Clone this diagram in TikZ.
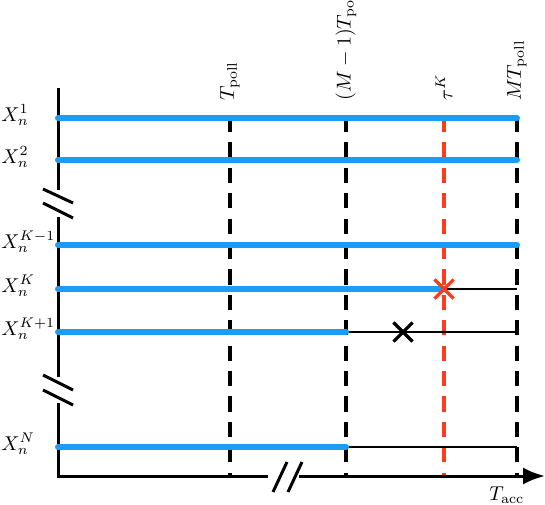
\documentclass[tikz,border=0pt]{standalone}
\usetikzlibrary{arrows.meta,shapes.misc}
\definecolor{sigblue}{RGB}{28,156,245}
\definecolor{sigred}{RGB}{255,58,30}
\begin{document}
\begin{tikzpicture}[x=0.5pt,y=-0.5pt,
  axis/.style={line width=1.5pt,black},
  brk/.style={line width=1.5pt,black},
  gridline/.style={line width=1.6pt,dash pattern=on 7.6pt off 5.1pt},
  sig/.style={line width=3pt,sigblue,line cap=round},
  tail/.style={line width=1.2pt,black},
  ylab/.style={anchor=base west,inner sep=0pt},
  tlab/.style={rotate=90,anchor=west,inner sep=0pt},
  crossmark/.style={cross out,draw,line width=1.6pt,inner sep=0pt,minimum size=8pt}]
\useasboundingbox (0,0) rectangle (545,504);

% axis points
\coordinate (ytop) at (58,88);
\coordinate (vb1) at (58,190);
\coordinate (vb2) at (58,217);
\coordinate (vb3) at (58,377);
\coordinate (vb4) at (58,403);
\coordinate (o) at (58,476);
\coordinate (hb1) at (268,476);
\coordinate (hb2) at (299,476);
\coordinate (xend) at (545,476);

% grid lines
\coordinate (g1t) at (230,117); \coordinate (g1b) at (230,476);
\coordinate (g2t) at (346,117); \coordinate (g2b) at (346,476);
\coordinate (g3t) at (444,117); \coordinate (g3b) at (444,476);
\coordinate (g4t) at (517,117); \coordinate (g4b) at (517,476);

\draw[gridline] (g1t) -- (g1b);
\draw[gridline] (g2t) -- (g2b);
\draw[gridline,sigred] (g3t) -- (g3b);
\draw[gridline] (g4t) -- (g4b);

% axes
\draw[axis] (ytop) -- (vb1);
\draw[axis] (vb2) -- (vb3);
\draw[axis,line join=miter] (vb4) -- (o) -- (hb1);
\draw[axis,-{Latex[length=11pt,width=8.5pt]}] (hb2) -- (xend);

% break marks
\coordinate (s1a) at (43,189); \coordinate (s1b) at (73,203);
\coordinate (s2a) at (43,203); \coordinate (s2b) at (73,218);
\coordinate (s3a) at (43,375); \coordinate (s3b) at (73,390);
\coordinate (s4a) at (43,390); \coordinate (s4b) at (73,405);
\coordinate (s5a) at (273,492); \coordinate (s5b) at (287,462);
\coordinate (s6a) at (288,492); \coordinate (s6b) at (302,462);
\draw[brk] (s1a) -- (s1b);
\draw[brk] (s2a) -- (s2b);
\draw[brk] (s3a) -- (s3b);
\draw[brk] (s4a) -- (s4b);
\draw[brk] (s5a) -- (s5b);
\draw[brk] (s6a) -- (s6b);

% rows
\coordinate (r1a) at (58,118); \coordinate (r1b) at (517,118);
\coordinate (r2a) at (58,160); \coordinate (r2b) at (517,160);
\coordinate (r3a) at (58,245); \coordinate (r3b) at (517,245);
\coordinate (r4a) at (58,289); \coordinate (r4m) at (444,289); \coordinate (r4b) at (517,289);
\coordinate (r5a) at (58,332); \coordinate (r5m) at (346,332); \coordinate (r5b) at (517,332);
\coordinate (r6a) at (58,447); \coordinate (r6m) at (346,447); \coordinate (r6b) at (517,447);

\draw[tail] (r4m) -- (r4b);
\draw[tail] (r5m) -- (r5b);
\draw[tail] (r6m) -- (r6b);
\draw[sig] (r1a) -- (r1b);
\draw[sig] (r2a) -- (r2b);
\draw[sig] (r3a) -- (r3b);
\draw[sig] (r4a) -- (r4m);
\draw[sig] (r5a) -- (r5m);
\draw[sig] (r6a) -- (r6m);

% crosses
\node[crossmark,sigred] (xk) at (444,289) {};
\node[crossmark,black] (xk1) at (403,332) {};

% row labels
\node[ylab] (l1) at (1,121) {$X_n^1$};
\node[ylab] (l2) at (1,163) {$X_n^2$};
\node[ylab] (l3) at (1,248) {$X_n^{K-1}$};
\node[ylab] (l4) at (1,292) {$X_n^K$};
\node[ylab] (l5) at (1,335) {$X_n^{K+1}$};
\node[ylab] (l6) at (1,450) {$X_n^N$};

% top labels
\node[tlab] (t1) at (230,101) {$T_{\mathrm{poll}}$};
\node[tlab] (t2) at (346,101) {$(M-1)T_{\mathrm{poll}}$};
\node[tlab] (t3) at (444,101) {$\tau^K$};
\node[tlab] (t4) at (517,101) {$MT_{\mathrm{poll}}$};

% axis label
\node[anchor=base west,inner sep=0pt] (tacc) at (489,500) {$T_{\mathrm{acc}}$};
\end{tikzpicture}
\end{document}
